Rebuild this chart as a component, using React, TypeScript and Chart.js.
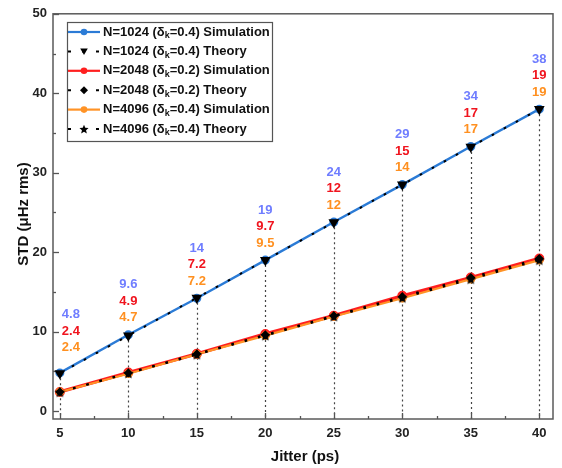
import React, { useEffect, useRef } from "react";
import { Chart, registerables } from "chart.js";

Chart.register(...registerables);

// ---- data ----
const jitter = [5, 10, 15, 20, 25, 30, 35, 40];
const simN1024 = [4.8, 9.6, 14.2, 19.0, 23.8, 28.5, 33.3, 38.0];
const theoryN1024 = [4.75, 9.5, 14.25, 19.0, 23.75, 28.5, 33.25, 38.0];
const simN2048 = [2.4, 4.85, 7.2, 9.7, 12.0, 14.5, 16.8, 19.2];
const theoryN2048 = [2.4, 4.8, 7.2, 9.6, 12.0, 14.4, 16.8, 19.2];
const simN4096 = [2.4, 4.7, 7.15, 9.5, 11.9, 14.2, 16.6, 19.0];
const theoryN4096 = [2.38, 4.75, 7.1, 9.5, 11.9, 14.25, 16.6, 19.0];

const labelsN1024 = ["4.8", "9.6", "14", "19", "24", "29", "34", "38"];
const labelsN2048 = ["2.4", "4.9", "7.2", "9.7", "12", "15", "17", "19"];
const labelsN4096 = ["2.4", "4.7", "7.2", "9.5", "12", "14", "17", "19"];

const xTicks = [5, 10, 15, 20, 25, 30, 35, 40];
const xMinorTicks = [7.5, 12.5, 17.5, 22.5, 27.5, 32.5, 37.5];
const yTicks = [0, 10, 20, 30, 40, 50];
const yMinorTicks = [5, 15, 25, 35, 45];

const legendNames = [
  ["N=1024 (δ", "k", "=0.4) Simulation"],
  ["N=1024 (δ", "k", "=0.4) Theory"],
  ["N=2048 (δ", "k", "=0.2) Simulation"],
  ["N=2048 (δ", "k", "=0.2) Theory"],
  ["N=4096 (δ", "k", "=0.4) Simulation"],
  ["N=4096 (δ", "k", "=0.4) Theory"],
];

const BLUE = "#2b7bd6";
const RED = "#ff1f1f";
const ORANGE = "#ff9326";
const BLUE_LABEL = "#6f7dff";
const RED_LABEL = "#f0141e";
const ORANGE_LABEL = "#ff9020";
const FONT = "'Liberation Sans', Arial, sans-serif";
const DASH = [2.5, 11.2];

function starPath(ctx: CanvasRenderingContext2D, cx: number, cy: number, R: number) {
  const r = R * 0.45;
  ctx.beginPath();
  for (let i = 0; i < 10; i++) {
    const rad = i % 2 === 0 ? R : r;
    const a = -Math.PI / 2 + (i * Math.PI) / 5;
    const px = cx + rad * Math.cos(a);
    const py = cy + rad * Math.sin(a);
    if (i === 0) ctx.moveTo(px, py);
    else ctx.lineTo(px, py);
  }
  ctx.closePath();
}

function makeStar(): HTMLCanvasElement {
  const c = document.createElement("canvas");
  c.width = 13;
  c.height = 13;
  const g = c.getContext("2d")!;
  g.fillStyle = "#000";
  starPath(g, 6.5, 7, 5.6);
  g.fill();
  return c;
}

function drawMarker(ctx: CanvasRenderingContext2D, kind: string, x: number, y: number, color: string) {
  ctx.fillStyle = color;
  if (kind === "circle") {
    ctx.beginPath();
    ctx.arc(x, y, 3.3, 0, Math.PI * 2);
    ctx.fill();
  } else if (kind === "tri") {
    ctx.beginPath();
    ctx.moveTo(x - 3.8, y - 3);
    ctx.lineTo(x + 3.8, y - 3);
    ctx.lineTo(x, y + 3.5);
    ctx.closePath();
    ctx.fill();
  } else if (kind === "diamond") {
    ctx.beginPath();
    ctx.moveTo(x, y - 4);
    ctx.lineTo(x + 4, y);
    ctx.lineTo(x, y + 4);
    ctx.lineTo(x - 4, y);
    ctx.closePath();
    ctx.fill();
  } else if (kind === "star") {
    starPath(ctx, x, y + 0.5, 4.8);
    ctx.fill();
  }
}

const decorPlugin = {
  id: "decor",
  beforeDatasetsDraw(chart: any) {
    const { ctx, chartArea: a, scales } = chart;
    const x = scales.x;
    const y = scales.y;
    ctx.save();
    // vertical dotted guide lines
    ctx.strokeStyle = "#444";
    ctx.lineWidth = 1.2;
    ctx.setLineDash([2, 3]);
    jitter.forEach((j, i) => {
      const px = Math.round(x.getPixelForValue(j)) + 0.5;
      const py = y.getPixelForValue(theoryN1024[i]);
      ctx.beginPath();
      ctx.moveTo(px, py);
      ctx.lineTo(px, a.bottom);
      ctx.stroke();
    });
    ctx.setLineDash([]);
    // ticks (inward)
    ctx.strokeStyle = "#555";
    ctx.lineWidth = 1.3;
    xTicks.forEach((t) => {
      const px = Math.round(x.getPixelForValue(t)) + 0.5;
      ctx.beginPath();
      ctx.moveTo(px, a.bottom);
      ctx.lineTo(px, a.bottom - 6);
      ctx.stroke();
    });
    xMinorTicks.forEach((t) => {
      const px = Math.round(x.getPixelForValue(t)) + 0.5;
      ctx.beginPath();
      ctx.moveTo(px, a.bottom);
      ctx.lineTo(px, a.bottom - 3);
      ctx.stroke();
    });
    yTicks.forEach((t) => {
      const py = Math.round(y.getPixelForValue(t)) + 0.5;
      ctx.beginPath();
      ctx.moveTo(a.left, py);
      ctx.lineTo(a.left + 6, py);
      ctx.stroke();
    });
    yMinorTicks.forEach((t) => {
      const py = Math.round(y.getPixelForValue(t)) + 0.5;
      ctx.beginPath();
      ctx.moveTo(a.left, py);
      ctx.lineTo(a.left + 3, py);
      ctx.stroke();
    });
    // frame
    ctx.strokeStyle = "#5a5a5a";
    ctx.lineWidth = 1.5;
    ctx.strokeRect(a.left, a.top, a.right - a.left, a.bottom - a.top);
    ctx.restore();
  },
  afterDatasetsDraw(chart: any) {
    const { ctx, scales } = chart;
    const x = scales.x;
    const y = scales.y;
    ctx.save();
    // value labels
    ctx.font = `bold 13px ${FONT}`;
    ctx.textAlign = "center";
    ctx.textBaseline = "middle";
    jitter.forEach((j, i) => {
      const px = x.getPixelForValue(j) + (i === 0 ? 11 : 0);
      const base = y.getPixelForValue(simN1024[i]) - (i === 0 ? 25 : 17);
      ctx.fillStyle = ORANGE_LABEL;
      ctx.fillText(labelsN4096[i], px, base);
      ctx.fillStyle = RED_LABEL;
      ctx.fillText(labelsN2048[i], px, base - 16.5);
      ctx.fillStyle = BLUE_LABEL;
      ctx.fillText(labelsN1024[i], px, base - 33);
    });

    // legend
    const lx = 67, ly = 22, lw = 205, lh = 119;
    ctx.fillStyle = "#fff";
    ctx.fillRect(lx, ly, lw, lh);
    ctx.strokeStyle = "#555";
    ctx.lineWidth = 1.2;
    ctx.strokeRect(lx + 0.5, ly + 0.5, lw, lh);
    const rows = [
      { color: BLUE, sim: true, marker: "circle" },
      { color: "#000", sim: false, marker: "tri" },
      { color: RED, sim: true, marker: "circle" },
      { color: "#000", sim: false, marker: "diamond" },
      { color: ORANGE, sim: true, marker: "circle" },
      { color: "#000", sim: false, marker: "star" },
    ];
    rows.forEach((r, i) => {
      const cy = 32 + i * 19.4;
      ctx.strokeStyle = r.color;
      ctx.lineWidth = r.sim ? 2.2 : 2;
      ctx.setLineDash(r.sim ? [] : [3, 11]);
      ctx.beginPath();
      ctx.moveTo(68, cy);
      ctx.lineTo(100, cy);
      ctx.stroke();
      ctx.setLineDash([]);
      drawMarker(ctx, r.marker, 84, cy, r.color);
      const parts = legendNames[i];
      ctx.fillStyle = "#111";
      ctx.textAlign = "left";
      ctx.textBaseline = "middle";
      ctx.font = `bold 13px ${FONT}`;
      let tx = 103;
      ctx.fillText(parts[0], tx, cy);
      tx += ctx.measureText(parts[0]).width;
      ctx.font = `bold 9px ${FONT}`;
      ctx.fillText(parts[1], tx, cy + 4);
      tx += ctx.measureText(parts[1]).width;
      ctx.font = `bold 13px ${FONT}`;
      ctx.fillText(parts[2], tx, cy);
    });

    // axis titles
    ctx.fillStyle = "#111";
    ctx.font = `bold 15px ${FONT}`;
    ctx.textAlign = "center";
    ctx.textBaseline = "middle";
    ctx.fillText("Jitter (ps)", 305, 457);
    ctx.translate(24, 214);
    ctx.rotate(-Math.PI / 2);
    ctx.fillText("STD (μHz rms)", 0, 0);
    ctx.restore();
  },
};

export default function App() {
  const ref = useRef<HTMLCanvasElement | null>(null);
  useEffect(() => {
    if (!ref.current) return;
    const star = makeStar();
    const mk = (d: number[]) => d.map((v, i) => ({ x: jitter[i], y: v }));
    const chart = new Chart(ref.current, {
      type: "line",
      data: {
        datasets: [
          {
            label: "N=1024 Simulation",
            data: mk(simN1024),
            borderColor: BLUE,
            backgroundColor: BLUE,
            borderWidth: 2.4,
            pointRadius: 3.3,
            pointStyle: "circle",
            order: 4,
          },
          {
            label: "N=1024 Theory",
            data: mk(theoryN1024),
            borderColor: "#000",
            backgroundColor: "#000",
            borderWidth: 2,
            borderDash: DASH,
            pointStyle: "triangle",
            rotation: 180,
            pointRadius: 4.2,
            order: 1,
          },
          {
            label: "N=2048 Simulation",
            data: mk(simN2048),
            borderColor: RED,
            backgroundColor: RED,
            borderWidth: 3.4,
            pointRadius: 3.3,
            pointStyle: "circle",
            order: 6,
          },
          {
            label: "N=2048 Theory",
            data: mk(theoryN2048),
            borderColor: "#000",
            backgroundColor: "#000",
            borderWidth: 2,
            borderDash: DASH,
            pointStyle: "rectRot",
            pointRadius: 3.2,
            order: 3,
          },
          {
            label: "N=4096 Simulation",
            data: mk(simN4096),
            borderColor: ORANGE,
            backgroundColor: ORANGE,
            borderWidth: 2.2,
            pointRadius: 3.3,
            pointStyle: "circle",
            order: 5,
          },
          {
            label: "N=4096 Theory",
            data: mk(theoryN4096),
            borderColor: "#000",
            backgroundColor: "#000",
            borderWidth: 2,
            borderDash: DASH,
            pointStyle: star as any,
            pointRadius: 5,
            order: 2,
          },
        ],
      },
      options: {
        responsive: false,
        animation: false,
        clip: false as any,
        layout: { padding: { left: 0, top: 9, right: 9, bottom: 0 } },
        plugins: { legend: { display: false }, tooltip: { enabled: false } },
        elements: { line: { tension: 0 } },
        scales: {
          x: {
            type: "linear",
            min: 4.5,
            max: 41,
            afterBuildTicks: (s: any) => {
              s.ticks = xTicks.map((v) => ({ value: v }));
            },
            afterFit: (s: any) => {
              s.height = 49;
            },
            grid: { display: false, drawTicks: false },
            border: { display: false },
            ticks: {
              font: { family: FONT, size: 13, weight: "bold" },
              color: "#222",
              padding: 7,
              maxRotation: 0,
              autoSkip: false,
            },
          },
          y: {
            type: "linear",
            min: -1,
            max: 50,
            afterBuildTicks: (s: any) => {
              s.ticks = yTicks.map((v) => ({ value: v }));
            },
            afterFit: (s: any) => {
              s.width = 53;
            },
            grid: { display: false, drawTicks: false },
            border: { display: false },
            ticks: {
              font: { family: FONT, size: 13, weight: "bold" },
              color: "#222",
              padding: 6,
              autoSkip: false,
            },
          },
        },
      },
      plugins: [decorPlugin],
    });
    return () => chart.destroy();
  }, []);
  return (
    <div style={{ position: "absolute", left: 0, top: 0, width: 562, height: 468, background: "#fff" }}>
      <canvas ref={ref} width={562} height={468} style={{ width: 562, height: 468 }} />
    </div>
  );
}
